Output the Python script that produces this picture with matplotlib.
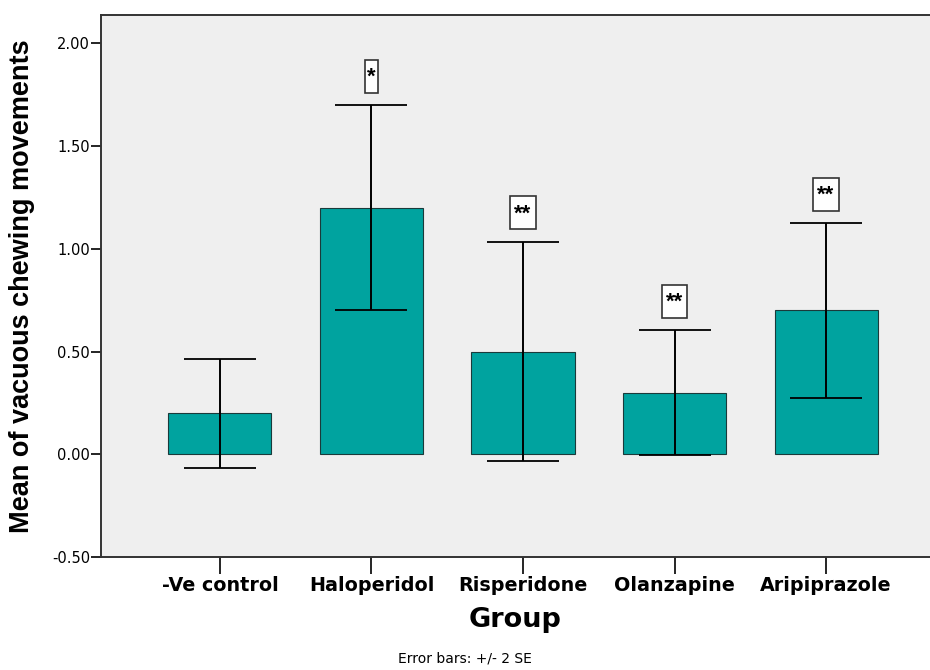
import numpy as np
import matplotlib.pyplot as plt
from matplotlib.patches import Rectangle

plt.rcParams['font.family'] = ['Liberation Sans', 'DejaVu Sans']

# Data
groups = ["-Ve control", "Haloperidol", "Risperidone", "Olanzapine", "Aripiprazole"]
means = [0.20, 1.20, 0.50, 0.30, 0.70]
err_low = [-0.065, 0.70, -0.035, -0.005, 0.275]
err_high = [0.465, 1.70, 1.035, 0.605, 1.125]
stars = ["", "*", "**", "**", "**"]

BAR_COLOR = "#00A39F"
BG = "#EFEFEF"
WIDE = ["DejaVu Sans"]

fig = plt.figure(figsize=(9.3, 6.7), dpi=100)
ax = fig.add_axes([101 / 930, 113 / 670, 829 / 930, 542 / 670])
ax.set_facecolor(BG)

x = np.arange(len(groups))
means = np.array(means)
lo = means - np.array(err_low)
hi = np.array(err_high) - means

ax.bar(x, means, width=0.68, color=BAR_COLOR, edgecolor="#1a3a3a", linewidth=0.8, zorder=2)
ax.errorbar(x, means, yerr=[lo, hi], fmt="none", ecolor="black",
            elinewidth=1.4, capsize=26, capthick=1.3, zorder=3)

# significance boxes above each error bar
for xi, top, s in zip(x, err_high, stars):
    if not s:
        continue
    w = 0.085 * len(s)
    y0 = top + 0.06
    h = 0.16
    ax.add_patch(Rectangle((xi - w / 2, y0), w, h, facecolor="white",
                           edgecolor="#333333", linewidth=1.2, zorder=4))
    ax.text(xi, y0 + h - 0.035, s, ha="center", va="top", fontsize=16,
            fontweight="bold", zorder=5)

ax.set_xlim(-0.785, 4.686)
ax.set_ylim(-0.5, 2.138)
ax.set_yticks([-0.5, 0.0, 0.5, 1.0, 1.5, 2.0])
ax.set_yticklabels([f"{v:.2f}" for v in [-0.5, 0.0, 0.5, 1.0, 1.5, 2.0]])
ax.set_xticks(x)
ax.set_xticklabels(groups, fontsize=13.8, fontweight="bold", family=WIDE)
ax.tick_params(axis="y", length=7, width=1.2, labelsize=10.5, pad=1)
ax.tick_params(axis="x", length=12, width=1.2, pad=2)
for lab in ax.get_yticklabels():
    lab.set_family(WIDE)

for side in ["left", "bottom", "top"]:
    ax.spines[side].set_linewidth(1.4)
    ax.spines[side].set_color("#333333")
ax.spines["right"].set_visible(False)

ax.set_xlabel("Group", fontsize=19.5, fontweight="bold", family=WIDE, labelpad=8)
ax.set_ylabel("Mean of vacuous chewing movements", fontsize=19.5, fontweight="bold", labelpad=12)

fig.text(0.5, 0.006, "Error bars: +/- 2 SE", ha="center", va="bottom", fontsize=10, family=WIDE)

fig.savefig("out.png", dpi=100, facecolor="white")
